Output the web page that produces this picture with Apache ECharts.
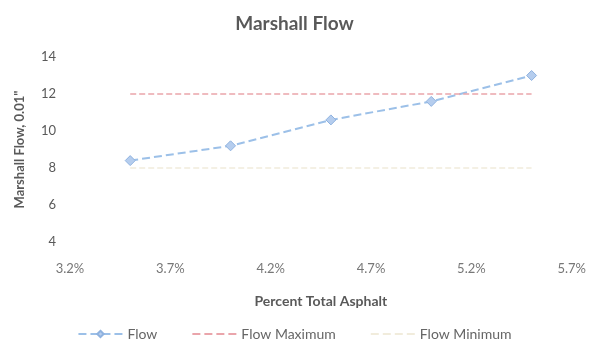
<!DOCTYPE html>
<html><head><meta charset="utf-8">
<script src="https://cdn.jsdelivr.net/npm/echarts@6/dist/echarts.min.js"></script>
<style>html,body{margin:0;padding:0;background:#fff}#c{width:589px;height:349px}</style>
</head><body><div id="c"></div>
<script>
const asphaltPct = [3.5, 4.0, 4.5, 5.0, 5.5];
const flow = [8.4, 9.2, 10.6, 11.6, 13.0];
const flowMax = [12, 12, 12, 12, 12];
const flowMin = [8, 8, 8, 8, 8];
const xTickLabels = ['3.2%', '3.7%', '4.2%', '4.7%', '5.2%', '5.7%'];
const yTicks = [4, 6, 8, 10, 12, 14];

const pairs = (xs, ys) => xs.map((x, i) => [x, ys[i]]);
const font = 'Lato, "Open Sans", sans-serif';
const chart = echarts.init(document.getElementById('c'));
chart.setOption({
  animation: false,
  title: {text: 'Marshall Flow', left: 'center', top: 9,
    textStyle: {fontFamily: font, fontSize: 19, fontWeight: 'bold', color: '#595959'}},
  grid: {left: 70, right: 17, top: 57, bottom: 107},
  legend: {bottom: 3, left: 'center', itemGap: 34, itemWidth: 44, itemHeight: 8,
    textStyle: {fontFamily: font, fontSize: 14, color: '#666'},
    data: ['Flow',
      {name: 'Flow Maximum', itemStyle: {opacity: 0}},
      {name: 'Flow Minimum', itemStyle: {opacity: 0}}]},
  xAxis: {type: 'value', min: 3.2, max: 5.7, interval: 0.5,
    name: 'Percent Total Asphalt', nameLocation: 'middle', nameGap: 52,
    nameTextStyle: {fontFamily: font, fontSize: 14, fontWeight: 'bold', color: '#595959'},
    axisLine: {show: false}, axisTick: {show: false}, splitLine: {show: false},
    axisLabel: {fontFamily: font, fontSize: 13, color: '#777', margin: 20,
      formatter: v => xTickLabels[Math.round((v - 3.2) / 0.5)] || ''}},
  yAxis: {type: 'value', min: yTicks[0], max: yTicks[yTicks.length - 1], interval: 2,
    name: 'Marshall Flow, 0.01"', nameLocation: 'middle', nameGap: 44, nameRotate: 90,
    nameTextStyle: {fontFamily: font, fontSize: 13, fontWeight: 'bold', color: '#595959'},
    axisLine: {show: false}, axisTick: {show: false}, splitLine: {show: false},
    axisLabel: {fontFamily: font, fontSize: 13, color: '#595959', margin: 14}},
  series: [
    {name: 'Flow', type: 'line', data: pairs(asphaltPct, flow),
     symbol: 'diamond', symbolSize: 10,
     lineStyle: {color: '#9cc0e8', width: 2, type: 'dashed'},
     itemStyle: {color: '#b5cdee', borderColor: '#8fb2df', borderWidth: 1}},
    {name: 'Flow Maximum', type: 'line', data: pairs(asphaltPct, flowMax),
     symbol: 'none', lineStyle: {color: '#eaa5ab', width: 1.5, type: 'dashed'},
     itemStyle: {color: '#eaa5ab'}},
    {name: 'Flow Minimum', type: 'line', data: pairs(asphaltPct, flowMin),
     symbol: 'none', lineStyle: {color: '#f1ecdc', width: 1.5, type: 'dashed'},
     itemStyle: {color: '#f1ecdc'}}
  ]
});
</script></body></html>
